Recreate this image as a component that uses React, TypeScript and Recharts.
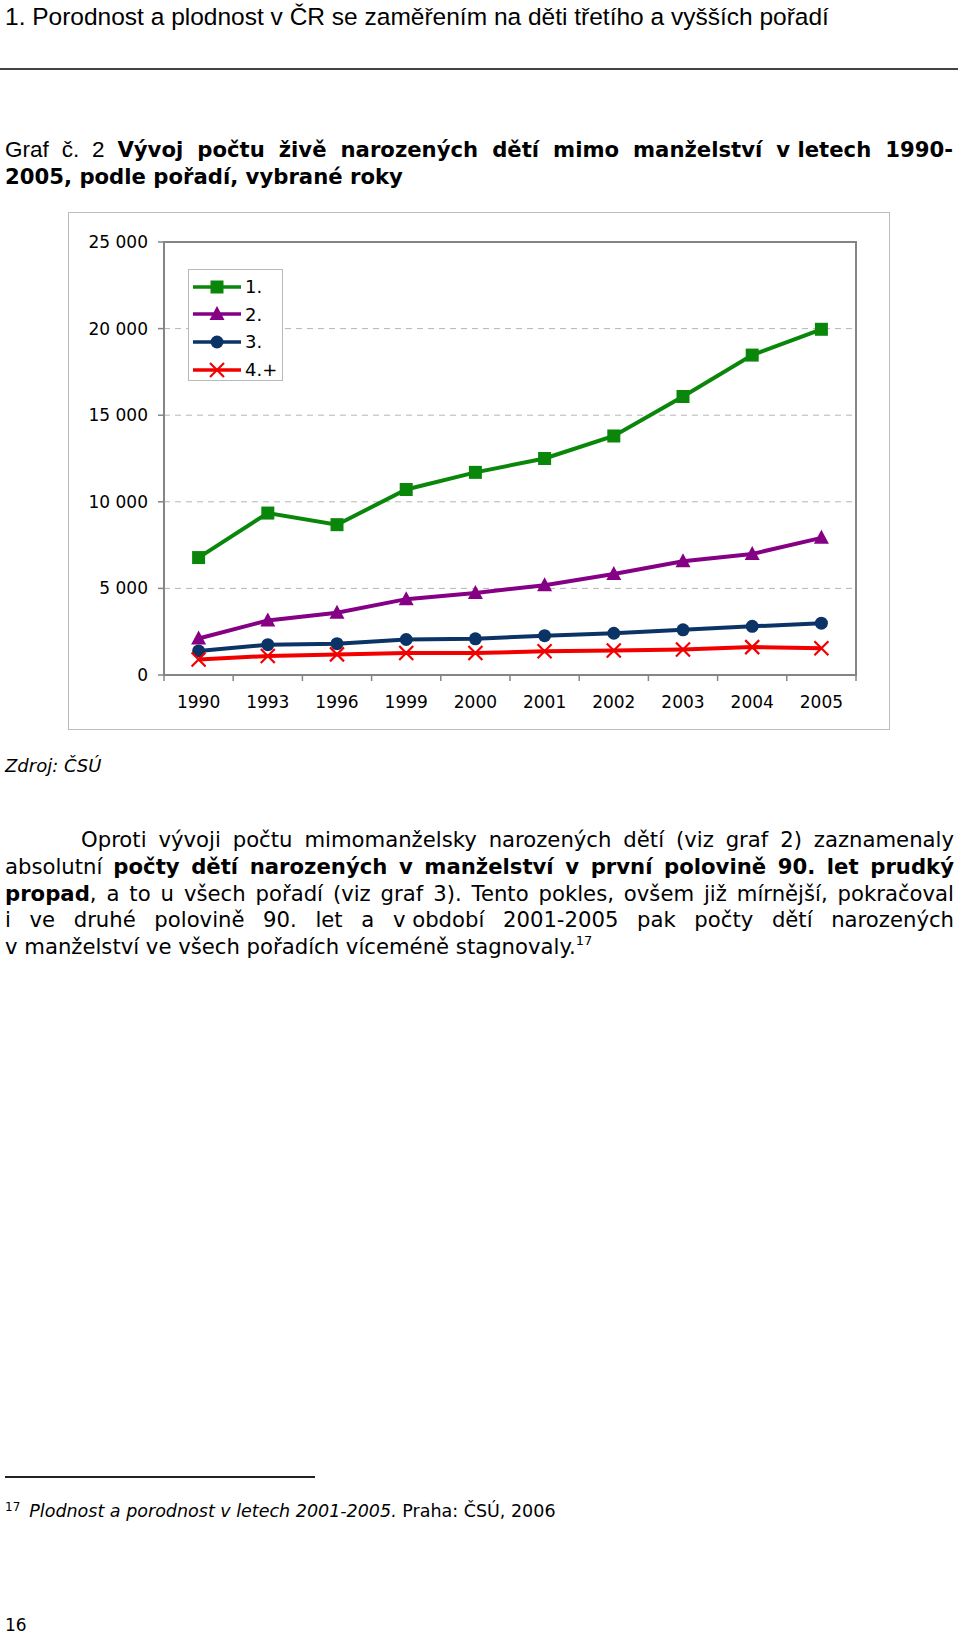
import { LineChart, Line, XAxis, YAxis, CartesianGrid, Legend, ReferenceArea } from "recharts"

const years = ["1990", "1993", "1996", "1999", "2000", "2001", "2002", "2003", "2004", "2005"]
const firstOrder = [6780, 9350, 8680, 10710, 11700, 12500, 13800, 16080, 18470, 19960]
const secondOrder = [2110, 3150, 3600, 4380, 4740, 5180, 5830, 6570, 6990, 7920]
const thirdOrder = [1390, 1750, 1810, 2050, 2090, 2270, 2410, 2610, 2810, 2990]
const fourthPlus = [900, 1100, 1190, 1270, 1270, 1370, 1410, 1470, 1610, 1550]
const yTicks = [0, 5000, 10000, 15000, 20000, 25000]

const series = [
  { key: "first", name: "1.", color: "#0a870a", shape: "square" },
  { key: "second", name: "2.", color: "#850085", shape: "triangle" },
  { key: "third", name: "3.", color: "#0b3366", shape: "circle" },
  { key: "fourth", name: "4.+", color: "#f20000", shape: "cross" },
]

const data = years.map((year, i) => ({
  year,
  first: firstOrder[i],
  second: secondOrder[i],
  third: thirdOrder[i],
  fourth: fourthPlus[i],
}))

const VERDANA = "'DejaVu Sans', Verdana, sans-serif"
const ARIAL = "'Liberation Sans', Arial, sans-serif"
const AXIS_GREY = "#858585"

function Marker({ shape, color, cx, cy }: { shape: string; color: string; cx: number; cy: number }) {
  if (shape === "square") return <rect x={cx - 6.5} y={cy - 6.5} width={13} height={13} fill={color} />
  if (shape === "triangle")
    return <polygon points={`${cx},${cy - 8} ${cx + 7.5},${cy + 6} ${cx - 7.5},${cy + 6}`} fill={color} />
  if (shape === "circle") return <circle cx={cx} cy={cy} r={6.5} fill={color} />
  return (
    <g stroke={color} strokeWidth={2.2}>
      <line x1={cx - 7} y1={cy - 7} x2={cx + 7} y2={cy + 7} />
      <line x1={cx - 7} y1={cy + 7} x2={cx + 7} y2={cy - 7} />
    </g>
  )
}

const makeDot = (shape: string, color: string) => (props: any) => {
  const { cx, cy, index } = props
  if (cx == null || cy == null) return <g key={`e-${index}`} />
  return (
    <g key={`${shape}-${index}`}>
      <Marker shape={shape} color={color} cx={cx} cy={cy} />
    </g>
  )
}

function YearTick(props: any) {
  const { x, y, payload, index, visibleTicksCount } = props
  const half = payload.offset ?? 34.6
  return (
    <g>
      <line x1={x - half} x2={x - half} y1={y} y2={y + 6} stroke={AXIS_GREY} strokeWidth={1.5} />
      {index === visibleTicksCount - 1 && (
        <line x1={x + half} x2={x + half} y1={y} y2={y + 6} stroke={AXIS_GREY} strokeWidth={1.5} />
      )}
      <text x={x} y={y + 33} textAnchor="middle" fontSize={17} fontFamily={VERDANA} fill="#000">
        {payload.value}
      </text>
    </g>
  )
}

const formatThousands = (v: number) => String(v).replace(/\B(?=(\d{3})+(?!\d))/g, " ")

function LegendBox(props: any) {
  const { payload } = props
  return (
    <div
      style={{
        width: 95,
        height: 112,
        boxSizing: "border-box",
        border: "1px solid #b8b8b8",
        background: "#fff",
        paddingTop: 3,
      }}
    >
      {(payload || []).map((entry: any) => {
        const s = series.find((d) => d.key === entry.dataKey) || series[0]
        return (
          <div key={s.key} style={{ display: "flex", alignItems: "center", height: 27.6 }}>
            <svg width={56} height={20} style={{ display: "block" }}>
              <line x1={4} x2={52} y1={10} y2={10} stroke={s.color} strokeWidth={3.5} />
              <Marker shape={s.shape} color={s.color} cx={28} cy={10} />
            </svg>
            <span style={{ fontFamily: VERDANA, fontSize: 18, color: "#000" }}>{s.name}</span>
          </div>
        )
      })}
    </div>
  )
}

function Chart() {
  return (
    <LineChart width={820} height={516} data={data} margin={{ top: 29, right: 33, left: 0, bottom: 0 }}>
      <CartesianGrid vertical={false} stroke="#b5b5b5" strokeDasharray="6 5" />
      <ReferenceArea y1={0} y2={25000} fill="none" fillOpacity={0} stroke={AXIS_GREY} strokeWidth={2} />
      <XAxis
        dataKey="year"
        scale="band"
        height={54}
        tickLine={false}
        tickSize={0}
        tickMargin={0}
        tick={<YearTick />}
        interval={0}
        axisLine={{ stroke: AXIS_GREY, strokeWidth: 2 }}
      />
      <YAxis
        width={95}
        domain={[0, 25000]}
        ticks={yTicks}
        tickFormatter={formatThousands}
        tickSize={6}
        tickMargin={10}
        tick={{ fontSize: 17, fontFamily: VERDANA, fill: "#000" }}
        tickLine={{ stroke: AXIS_GREY, strokeWidth: 1.5 }}
        axisLine={{ stroke: AXIS_GREY, strokeWidth: 2 }}
        interval={0}
      />
      <Legend
        layout="vertical"
        align="center"
        verticalAlign="middle"
        content={<LegendBox />}
        wrapperStyle={{ left: 119, top: 56, width: 95, height: 112 }}
      />
      {series.map((s) => (
        <Line
          key={s.key}
          dataKey={s.key}
          name={s.name}
          stroke={s.color}
          strokeWidth={4}
          dot={makeDot(s.shape, s.color)}
          activeDot={false}
          isAnimationActive={false}
        />
      ))}
    </LineChart>
  )
}

const line = (top: number, extra: any = {}) => ({
  position: "absolute" as const,
  left: 5,
  width: 949,
  top,
  height: 27,
  lineHeight: "27px",
  fontFamily: VERDANA,
  fontSize: 21.2,
  whiteSpace: "nowrap" as const,
  ...extra,
})

const justified = { textAlign: "justify" as const, textAlignLast: "justify" as const }
const keep = { display: "inline-block" }

export default function App() {
  return (
    <div style={{ position: "absolute", left: 0, top: 0, width: 960, height: 1637, background: "#fff", color: "#000" }}>
      <div style={line(2, { fontFamily: ARIAL, fontSize: 24.5, lineHeight: "30px", height: 30 })}>
        1. Porodnost a plodnost v ČR se zaměřením na děti třetího a vyšších pořadí
      </div>
      <div style={{ position: "absolute", left: 0, top: 68, width: 958, height: 2, background: "#444" }} />

      <div style={line(136, { ...justified, width: 948 })}>
        <span style={{ fontFamily: ARIAL, fontSize: 22.5 }}>Graf č. 2 </span>
        <b>Vývoj počtu živě narozených dětí mimo manželství <span style={keep}>v letech</span> 1990-</b>
      </div>
      <div style={line(163)}>
        <b>2005, podle pořadí, vybrané roky</b>
      </div>

      <div
        style={{
          position: "absolute",
          left: 68,
          top: 212,
          width: 822,
          height: 518,
          boxSizing: "border-box",
          border: "1px solid #bcbcbc",
        }}
      >
        <Chart />
      </div>

      <div style={line(752, { fontStyle: "italic", fontSize: 18 })}>Zdroj: ČSÚ</div>

      <div style={line(826, { ...justified, left: 81, width: 873 })}>
        Oproti vývoji počtu mimomanželsky narozených dětí (viz graf 2) zaznamenaly
      </div>
      <div style={line(853, justified)}>
        absolutní <b>počty dětí narozených v manželství v první polovině 90. let prudký</b>
      </div>
      <div style={line(880, justified)}>
        <b>propad</b>, a to u všech pořadí (viz graf 3). Tento pokles, ovšem již mírnější, pokračoval
      </div>
      <div style={line(906, justified)}>
        i ve druhé polovině 90. let a <span style={keep}>v období</span> 2001-2005 pak počty dětí narozených
      </div>
      <div style={line(933)}>
        v manželství ve všech pořadích víceméně stagnovaly.
        <sup style={{ fontSize: 13, verticalAlign: "9px", lineHeight: 0 }}>17</sup>
      </div>

      <div style={{ position: "absolute", left: 5, top: 1476, width: 310, height: 2, background: "#222" }} />
      <div style={line(1499, { fontSize: 17.5, height: 24, lineHeight: "24px" })}>
        <sup style={{ fontSize: 12, verticalAlign: "6px", lineHeight: 0 }}>17</sup>
        <span style={{ marginLeft: 9 }}>
          <i>Plodnost a porodnost v letech 2001-2005.</i> Praha: ČSÚ, 2006
        </span>
      </div>
      <div style={line(1613, { fontSize: 17, height: 24, lineHeight: "24px" })}>16</div>
    </div>
  )
}
